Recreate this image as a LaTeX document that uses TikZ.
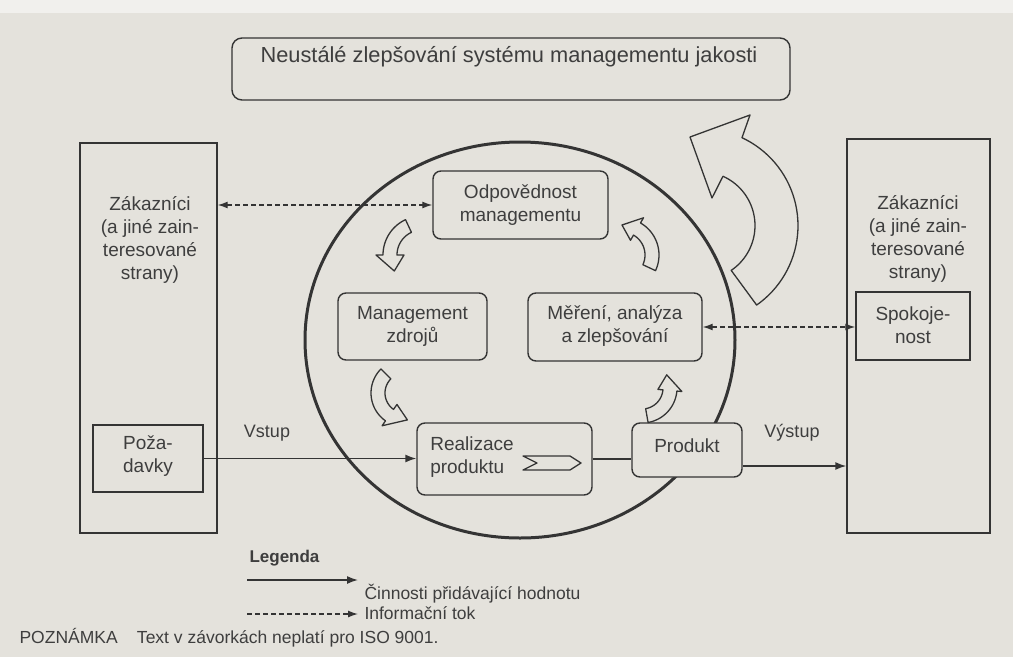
\documentclass[tikz,border=0pt]{standalone}
\usepackage{fontspec}
\setmainfont{Liberation Sans}
\usetikzlibrary{arrows.meta}
\definecolor{paper}{RGB}{228,226,220}
\definecolor{paperlight}{RGB}{241,240,237}
\definecolor{ink}{RGB}{52,52,52}
\definecolor{inktext}{RGB}{62,62,62}

% curved block arrow: centre (#1,#2), mid radius #3, half width #4,
% tail angle #5, neck angle #6, tip angle #7, head half width #8
\newcommand\bendarrow[8]{%
  \draw[blockarrow]
    plot[domain=#5:#6,samples=24] ({#1+(#3+#4)*cos(\x)},{#2+(#3+#4)*sin(\x)})
    -- ({#1+(#3+#8)*cos(#6)},{#2+(#3+#8)*sin(#6)})
    -- ({#1+#3*cos(#7)},{#2+#3*sin(#7)})
    -- ({#1+(#3-#8)*cos(#6)},{#2+(#3-#8)*sin(#6)})
    -- plot[domain=#6:#5,samples=24] ({#1+(#3-#4)*cos(\x)},{#2+(#3-#4)*sin(\x)})
    -- cycle;}

\begin{document}
\begin{tikzpicture}[x=1pt,y=-1pt,
  every node/.style={text=inktext},
  boxtext/.style={font=\fontsize{19}{23}\selectfont, align=center},
  roundbox/.style={draw=ink, line width=1.4pt, fill=paper, rounded corners=8pt, inner sep=0pt},
  squarebox/.style={draw=ink, line width=1.4pt, fill=paper, inner sep=0pt},
  flow/.style={draw=ink, line width=1.5pt, -{Latex[length=11pt,width=8pt]}},
  plainflow/.style={draw=ink, line width=1.5pt},
  info/.style={draw=ink, line width=1.3pt, dash pattern=on 5pt off 3pt,
     {Latex[length=10pt,width=7pt]}-{Latex[length=10pt,width=7pt]}},
  infoone/.style={draw=ink, line width=1.3pt, dash pattern=on 5pt off 3pt,
     -{Latex[length=10pt,width=7pt]}},
  blockarrow/.style={draw=ink, line width=1.3pt, fill=paper, line join=round},
  legendtext/.style={font=\fontsize{17.5}{20}\selectfont, anchor=west}
]
% paper
\fill[paper] (0,0) rectangle (1013,657);
\fill[paperlight] (0,0) rectangle (1013,13);
\useasboundingbox (0,0) rectangle (1013,657);

% continual improvement banner
\node[roundbox, rounded corners=10pt, minimum width=558pt, minimum height=62pt] (title) at (511,69) {};
\node[font=\fontsize{21.8}{25}\selectfont] (titletext) at (509,57)
  {Neustálé zlepšování systému managementu jakosti};

% customers, left and right
\node[squarebox, minimum width=137pt, minimum height=390pt] (custL) at (148.5,338) {};
\node[boxtext] (custLtext) at (150,240) {Zákazníci\\(a jiné zain-\\teresované\\strany)};
\node[squarebox, minimum width=143pt, minimum height=394pt] (custR) at (918.5,336) {};
\node[boxtext] (custRtext) at (918,239) {Zákazníci\\(a jiné zain-\\teresované\\strany)};

\node[squarebox, minimum width=110pt, minimum height=67pt] (poz) at (148,458.5) {};
\node[boxtext] (poztext) at (148,456) {Poža-\\davky};
\node[squarebox, minimum width=114pt, minimum height=68pt] (spok) at (913,326) {};
\node[boxtext] (spoktext) at (913,325) {Spokoje-\\nost};

% process cycle
\draw[ink, line width=3pt] (520,340) ellipse [x radius=215, y radius=198];

\node[roundbox, minimum width=175pt, minimum height=68pt] (odp) at (520.5,205) {};
\node[boxtext] (odptext) at (520.5,205) {Odpovědnost\\managementu};
\node[roundbox, minimum width=149pt, minimum height=67pt] (mgmt) at (412.5,326.5) {};
\node[boxtext] (mgmttext) at (412.5,326) {Management\\zdrojů};
\node[roundbox, minimum width=174pt, minimum height=68pt] (mer) at (615,327) {};
\node[boxtext] (mertext) at (615,326) {Měření, analýza\\a zlepšování};
\node[roundbox, minimum width=175pt, minimum height=72pt] (real) at (504.5,459) {};
\node[boxtext, align=left] (realtext) at (472,457) {Realizace\\produktu};
\node[roundbox, minimum width=110pt, minimum height=54pt] (prod) at (687,450) {};
\node[boxtext] (prodtext) at (687,446) {Produkt};

% value chevron inside product realisation
\draw[ink, line width=1.3pt, line join=round]
  (523,456) -- (570,456) -- (581,463) -- (570,470) -- (523,470) -- (537,463) -- cycle;

% small cycle arrows
\bendarrow{422}{255}{32}{7}{245}{180}{150}{14}
\bendarrow{622}{255}{30}{7}{25}{-60}{-90}{13}
\bendarrow{405}{393}{27}{7}{225}{125}{85}{13}
\bendarrow{642}{388}{28}{7}{80}{5}{-28}{12}

% large improvement arrow
\draw[blockarrow]
  plot[domain=55:-65,samples=40] ({701+97*cos(\x)},{225.6+97*sin(\x)})
  -- (750,115) -- (690,137) -- (712,198)
  -- plot[domain=-66:56,samples=40] ({701+54*cos(\x)},{225.6+54*sin(\x)})
  -- cycle;

% information flows
\draw[info] (custL.east |- odp.west) -- (odp.west);
\draw[info] (mer.east) -- (mer.east -| spok.west);

% value-adding flows
\draw[flow] (poz.east) -- (poz.east -| real.west);
\node[font=\fontsize{18}{21}\selectfont] (vstup) at (267,433) {Vstup};
\draw[plainflow] (real.east) -- (real.east -| prod.west);
\coordinate (prodout) at ([yshift=-16pt]prod.east);
\draw[flow] (prodout) -- (prodout -| custR.west);
\node[font=\fontsize{18}{21}\selectfont] (vystup) at (792,433) {Výstup};

% legend
\node[legendtext, font=\bfseries\fontsize{17}{20}\selectfont] (legenda) at (246,558) {Legenda};
\coordinate (leg1a) at (247,580);
\coordinate (leg1b) at (358,580);
\draw[flow] (leg1a) -- (leg1b);
\node[legendtext] (leg1text) at (361,594) {Činnosti přidávající hodnotu};
\coordinate (leg2a) at (247,614);
\coordinate (leg2b) at (358,614);
\draw[infoone] (leg2a) -- (leg2b);
\node[legendtext] (leg2text) at (361,613) {Informační tok};

\node[legendtext] (note) at (16,638) {POZNÁMKA\hspace{1.1em}Text v závorkách neplatí pro ISO 9001.};
\end{tikzpicture}
\end{document}
